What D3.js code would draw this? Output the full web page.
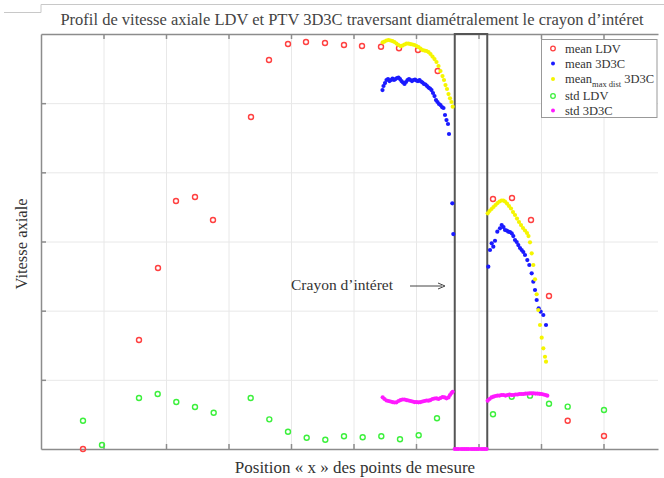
<!DOCTYPE html>
<html><head><meta charset="utf-8">
<script src="https://cdn.jsdelivr.net/npm/d3@7"></script>
<style>body{margin:0;background:#fff}svg{display:block}text{font-family:"Liberation Serif","Times New Roman",serif}</style>
</head><body><div id="chart"></div>
<script>
// ---------- data (arbitrary units: x = position, y = axial velocity) ----------
const xTicks = [0,1,2,3,4,5,6,7,8,9];
const yTicks = [0,1,2,3,4,5,6];
const rodRange = [6.62, 7.14];

const ldvX    = [0.672,1.568,1.872,2.160,2.464,2.752,3.360,3.648,3.952,4.240,4.544,4.848,5.136,5.440,5.728,6.032,6.347,7.232,7.536,7.840,8.128,8.427,9.008];
const ldvMean = [0.000,1.576,2.617,3.585,3.643,3.311,4.800,5.624,5.855,5.884,5.870,5.841,5.826,5.816,5.793,5.768,5.465,3.614,3.629,3.311,2.212,0.409,0.188];
const ldvStdX = [0.672,0.976,1.568,1.867,2.165,2.464,2.763,3.355,3.653,3.952,4.251,4.549,4.848,5.147,5.445,5.744,6.043,6.336,7.232,7.531,7.824,8.128,8.427,9.008];
const ldvStd  = [0.409,0.058,0.737,0.795,0.679,0.607,0.525,0.737,0.429,0.250,0.163,0.134,0.184,0.169,0.184,0.140,0.198,0.444,0.502,0.756,0.771,0.655,0.612,0.564];

const ptvMeanX = [5.464,5.480,5.504,5.528,5.552,5.576,5.600,5.624,5.648,5.672,5.696,5.720,5.744,5.768,5.792,5.816,5.840,5.864,5.888,5.912,5.936,5.960,5.984,6.008,6.032,6.056,6.080,6.104,6.128,6.152,6.176,6.200,6.224,6.248,6.272,6.296,6.320,6.344,6.368,6.392,6.416,6.440,6.464,6.488,6.512,6.528,6.581,6.597,
  7.157,7.184,7.211,7.237,7.264,7.301,7.344,7.371,7.400,7.424,7.451,7.477,7.504,7.531,7.557,7.584,7.611,7.637,7.664,7.691,7.717,7.744,7.781,7.813,7.851,7.877,7.904,7.931,7.963,7.995,8.037,8.080];
const ptvMean  = [5.190,5.248,5.291,5.335,5.349,5.320,5.335,5.356,5.335,5.349,5.364,5.371,5.349,5.320,5.299,5.277,5.306,5.335,5.349,5.335,5.320,5.335,5.342,5.327,5.320,5.335,5.313,5.299,5.277,5.270,5.248,5.226,5.212,5.190,5.147,5.103,5.045,5.017,4.988,4.973,4.944,4.930,4.829,4.756,4.699,4.554,3.552,3.108,
  2.636,2.877,2.974,2.925,3.011,3.142,3.191,3.238,3.209,3.166,3.159,3.142,3.137,3.118,3.079,3.022,2.993,2.949,2.906,2.877,2.848,2.805,2.732,2.660,2.540,2.419,2.299,2.154,2.034,1.985,1.937,1.793];

const maxDistX = [5.467,5.496,5.528,5.560,5.592,5.624,5.656,5.688,5.720,5.752,5.784,5.816,5.848,5.880,5.912,5.944,5.976,6.008,6.040,6.072,6.104,6.136,6.168,6.200,6.232,6.264,6.296,6.328,6.360,6.392,6.424,6.448,6.472,6.496,6.520,6.544,6.568,6.587,
  7.147,7.176,7.208,7.240,7.272,7.304,7.336,7.368,7.397,7.424,7.456,7.488,7.520,7.552,7.584,7.616,7.648,7.680,7.712,7.744,7.776,7.800,7.824,7.851,7.877,7.904,7.931,7.957,7.984,8.011,8.037,8.064,8.080];
const maxDistMean = [5.880,5.891,5.906,5.913,5.906,5.898,5.884,5.862,5.841,5.826,5.833,5.848,5.862,5.862,5.855,5.848,5.841,5.826,5.812,5.790,5.768,5.761,5.754,5.739,5.711,5.674,5.638,5.595,5.537,5.465,5.392,5.335,5.262,5.205,5.132,5.070,5.017,4.949,
  3.408,3.441,3.470,3.499,3.528,3.556,3.578,3.593,3.593,3.578,3.549,3.513,3.477,3.426,3.383,3.332,3.282,3.238,3.195,3.159,3.123,3.079,2.988,2.829,2.660,2.453,2.237,2.010,1.793,1.609,1.456,1.334,1.262];

const ptvStdX = [5.467,5.496,5.528,5.560,5.592,5.624,5.656,5.688,5.720,5.752,5.784,5.816,5.848,5.880,5.912,5.944,5.976,6.008,6.040,6.072,6.104,6.136,6.168,6.200,6.232,6.264,6.296,6.328,6.360,6.392,6.424,6.456,6.488,6.520,6.544,6.568,6.587,
  6.62,6.65,6.68,6.72,6.75,6.78,6.81,6.84,6.88,6.91,6.94,6.97,7.00,7.04,7.07,7.10,7.13,
  7.147,7.176,7.208,7.240,7.272,7.304,7.336,7.368,7.400,7.432,7.464,7.496,7.528,7.560,7.592,7.624,7.656,7.688,7.720,7.752,7.784,7.816,7.848,7.880,7.912,7.944,7.976,8.008,8.040,8.072,8.101];
const ptvStd  = [0.747,0.723,0.701,0.694,0.687,0.679,0.672,0.675,0.694,0.708,0.716,0.716,0.708,0.701,0.694,0.687,0.679,0.679,0.675,0.679,0.687,0.694,0.701,0.698,0.708,0.723,0.730,0.733,0.723,0.737,0.752,0.745,0.733,0.745,0.781,0.810,0.828,
  0,0,0,0,0,0,0,0,0,0,0,0,0,0,0,0,0,
  0.698,0.723,0.745,0.756,0.766,0.773,0.773,0.781,0.781,0.773,0.781,0.788,0.781,0.781,0.788,0.788,0.795,0.795,0.795,0.802,0.802,0.805,0.805,0.805,0.802,0.802,0.798,0.795,0.788,0.781,0.771];

const seriesNames = ["mean LDV","mean 3D3C","mean","std LDV","std 3D3C"];
const seriesColors = ["#ff4040","#1a1aff","#f5f500","#3cf03c","#ff1aff"];

// ---------- drawing ----------
const W = 664, H = 478;
const svg = d3.select("#chart").append("svg").attr("width", W).attr("height", H);
const x = d3.scaleLinear().domain([0, 9.872]).range([41, 658]);
const y = d3.scaleLinear().domain([0, 6]).range([449, 34]);

// tab-like frame at top
svg.append("path").attr("d","M4,12.5H41V4.5H664").attr("fill","none").attr("stroke","#c8c8c8").attr("stroke-width",1);

// grid
svg.append("g").attr("transform","translate(0,449)")
  .call(d3.axisBottom(x).tickValues(xTicks.slice(1)).tickSize(-415).tickFormat(""))
  .call(g=>{g.select(".domain").remove(); g.selectAll("line").attr("stroke","#e8e8e8");});
svg.append("g").attr("transform","translate(41,0)")
  .call(d3.axisLeft(y).tickValues(yTicks.slice(1,-1)).tickSize(-617).tickFormat(""))
  .call(g=>{g.select(".domain").remove(); g.selectAll("line").attr("stroke","#e8e8e8");});

// axes (inward ticks)
const axCol = "#8c8c8c";
function styleAx(g){ g.selectAll("path,line").attr("stroke",axCol).attr("stroke-width",1.5); }
svg.append("g").attr("transform","translate(0,449)")
  .call(d3.axisBottom(x).tickValues(xTicks.slice(1)).tickSizeInner(-5).tickSizeOuter(0).tickFormat("")).call(styleAx);
svg.append("g").attr("transform","translate(0,34)")
  .call(d3.axisTop(x).tickValues(xTicks.slice(1)).tickSizeInner(-5).tickSizeOuter(0).tickFormat("")).call(styleAx);
svg.append("g").attr("transform","translate(41,0)")
  .call(d3.axisLeft(y).tickValues(yTicks.slice(1,-1)).tickSizeInner(-5).tickSizeOuter(0).tickFormat("")).call(styleAx);

// rod rectangle
svg.append("rect").attr("x", x(rodRange[0])).attr("y", y(6)).attr("width", x(rodRange[1]) - x(rodRange[0]))
  .attr("height", y(0) - y(6)).attr("fill","none").attr("stroke","#555").attr("stroke-width",2);

// series
function dots(xs, ys, color, r, open){
  svg.append("g").selectAll("circle").data(xs.map((d,i)=>[d, ys[i]])).join("circle")
    .attr("cx", d=>x(d[0])).attr("cy", d=>y(d[1])).attr("r", r)
    .attr("fill", open ? "none" : color).attr("stroke", open ? color : "none").attr("stroke-width", open ? 1.4 : 0);
}
dots(ldvX, ldvMean, seriesColors[0], 2.5, true);
dots(ptvMeanX, ptvMean, seriesColors[1], 2.1, false);
dots(maxDistX, maxDistMean, seriesColors[2], 2.1, false);
dots(ldvStdX, ldvStd, seriesColors[3], 2.5, true);
dots(ptvStdX, ptvStd, seriesColors[4], 2.1, false);

// annotation
svg.append("text").attr("x", 291).attr("y", 290).attr("font-size", 15.5).attr("fill","#333").text("Crayon d’intéret");
svg.append("line").attr("x1", 410).attr("x2", 442).attr("y1", 286).attr("y2", 286).attr("stroke","#444").attr("stroke-width",1);
svg.append("path").attr("d","M438,283L445,286L438,289").attr("fill","none").attr("stroke","#444").attr("stroke-width",1);

// legend
const lg = svg.append("g");
lg.append("rect").attr("x",541.5).attr("y",39.5).attr("width",115.5).attr("height",78).attr("fill","#fff").attr("stroke","#999").attr("stroke-width",1);
const rowsY = [48.5,63.5,79,96,110.5];
seriesNames.forEach((n,i)=>{
  const open = (i===0 || i===3);
  lg.append("circle").attr("cx",553).attr("cy",rowsY[i]).attr("r", open?2.3:2)
    .attr("fill", open?"none":seriesColors[i]).attr("stroke", open?seriesColors[i]:"none").attr("stroke-width",1.3);
  const t = lg.append("text").attr("x",565).attr("y",rowsY[i]+4).attr("font-size",12.5).attr("fill","#333");
  if(i===2){
    t.append("tspan").text("mean");
    t.append("tspan").attr("font-size",8.5).attr("dy",4).text("max dist");
    t.append("tspan").attr("dy",-4).text(" 3D3C");
  } else t.text(n);
});

// titles
svg.append("text").attr("x", 352).attr("y", 25).attr("text-anchor","middle").attr("font-size",16.5).attr("fill","#444")
  .text("Profil de vitesse axiale LDV et PTV 3D3C traversant diamétralement le crayon d’intéret");
svg.append("text").attr("x", 355).attr("y", 473).attr("text-anchor","middle").attr("font-size",17).attr("fill","#333")
  .text("Position « x » des points de mesure");
svg.append("text").attr("transform","translate(27,244) rotate(-90)").attr("text-anchor","middle").attr("font-size",16.5).attr("fill","#333")
  .text("Vitesse axiale");
</script></body></html>
